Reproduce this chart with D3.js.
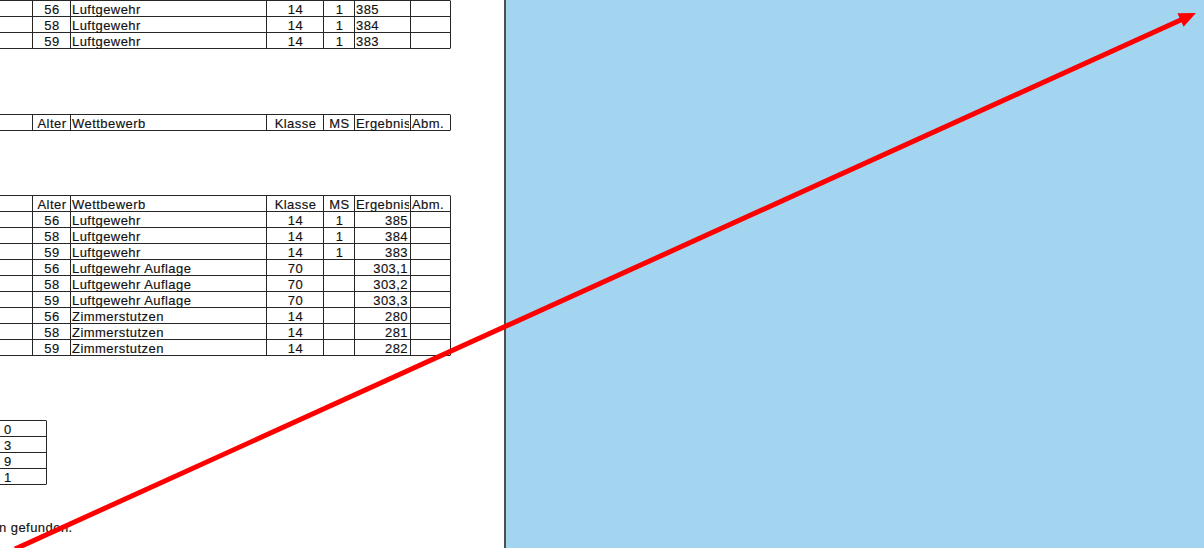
<!DOCTYPE html>
<html>
<head>
<meta charset="utf-8">
<script src="https://cdn.jsdelivr.net/npm/d3@7/dist/d3.min.js"></script>
<style>
  html, body { margin: 0; padding: 0; background: #fff; overflow: hidden; }
  svg { display: block; }
  text { font-family: "Liberation Sans", Arial, sans-serif; font-size: 13px; letter-spacing: 0.45px; fill: #111; stroke: #111; stroke-width: 0.15px; }
</style>
</head>
<body>
<script>
// ---------------- DATA ----------------
const headers = ["Alter", "Wettbewerb", "Klasse", "MS", "Ergebnis", "Abm."];

const t1Alter = [56, 58, 59];
const t1Wettbewerb = ["Luftgewehr", "Luftgewehr", "Luftgewehr"];
const t1Klasse = [14, 14, 14];
const t1MS = [1, 1, 1];
const t1Ergebnis = ["385", "384", "383"];

const t3Alter = [56, 58, 59, 56, 58, 59, 56, 58, 59];
const t3Wettbewerb = ["Luftgewehr", "Luftgewehr", "Luftgewehr",
  "Luftgewehr Auflage", "Luftgewehr Auflage", "Luftgewehr Auflage",
  "Zimmerstutzen", "Zimmerstutzen", "Zimmerstutzen"];
const t3Klasse = [14, 14, 14, 70, 70, 70, 14, 14, 14];
const t3MS = [1, 1, 1, "", "", "", "", "", ""];
const t3Ergebnis = ["385", "384", "383", "303,1", "303,2", "303,3", "280", "281", "282"];

const smallValues = ["0", "3", "9", "1"];
const footnote = "n gefunden.";

// arrow in a unit domain (start -> end)
const arrowPoints = [[0, 0], [1, 1]];

// ---------------- LAYOUT ----------------
const W = 1204, H = 548;
const colEdges = [0, 32, 70, 266, 323, 354, 410, 450];
const rowH = 16;
const lineColor = "#262626";

const svg = d3.select("body").append("svg").attr("width", W).attr("height", H);

// clip paths per column for overflow text
const defs = svg.append("defs");
colEdges.slice(0, -1).forEach((x0, i) => {
  defs.append("clipPath").attr("id", "col" + i)
    .append("rect").attr("x", x0).attr("y", 0)
    .attr("width", colEdges[i + 1] - x0 - 1).attr("height", H);
});

// blue panel
const panelX = d3.scaleLinear().domain([0, 1]).range([506, W]);
svg.append("rect").attr("x", panelX(0)).attr("y", 0)
  .attr("width", panelX(1) - panelX(0)).attr("height", H)
  .attr("fill", "rgb(163,213,241)");
svg.append("line").attr("x1", 505).attr("x2", 505).attr("y1", 0).attr("y2", H)
  .attr("stroke", "#222").attr("stroke-width", 1.6);

function drawTable(top, headerRow, cols, ergAlign) {
  const nRows = cols[0].length + (headerRow ? 1 : 0);
  const y = d3.scaleLinear().domain([0, nRows]).range([top, top + nRows * rowH]);
  const g = svg.append("g");
  g.selectAll("line.h").data(d3.range(nRows + 1)).join("line")
    .attr("x1", colEdges[0]).attr("x2", colEdges[colEdges.length - 1])
    .attr("y1", d => Math.round(y(d)) + 0.5).attr("y2", d => Math.round(y(d)) + 0.5)
    .attr("stroke", lineColor).attr("stroke-width", 1);
  g.selectAll("line.v").data(colEdges.slice(1)).join("line")
    .attr("x1", d => d + 0.5).attr("x2", d => d + 0.5)
    .attr("y1", y(0) + 0.5).attr("y2", y(nRows) + 0.5)
    .attr("stroke", lineColor).attr("stroke-width", 1);

  const cellText = (rowIdx, colIdx, txt, align) => {
    const x0 = colEdges[colIdx], x1 = colEdges[colIdx + 1];
    let x, anchor;
    if (align === "center") { x = (x0 + x1) / 2 + 1; anchor = "middle"; }
    else if (align === "right") { x = x1 - 2; anchor = "end"; }
    else { x = x0 + 2; anchor = "start"; }
    g.append("text").attr("x", x).attr("y", y(rowIdx) + 14)
      .attr("text-anchor", anchor).attr("clip-path", "url(#col" + colIdx + ")")
      .text(txt);
  };
  let r0 = 0;
  if (headerRow) {
    const hAlign = ["center", "left", "center", "center", "left", "left"];
    headers.forEach((h, i) => cellText(0, i + 1, h, hAlign[i]));
    r0 = 1;
  }
  const aligns = ["center", "left", "center", "center", ergAlign];
  cols.forEach((col, ci) => {
    col.forEach((v, ri) => cellText(r0 + ri, ci + 1, String(v), aligns[ci]));
  });
}

drawTable(0, false, [t1Alter, t1Wettbewerb, t1Klasse, t1MS, t1Ergebnis], "left");
drawTable(114, true, [[], [], [], [], []], "right");
drawTable(195, true, [t3Alter, t3Wettbewerb, t3Klasse, t3MS, t3Ergebnis], "right");

// small table
const ys = d3.scaleLinear().domain([0, smallValues.length]).range([420, 420 + smallValues.length * rowH]);
const gs = svg.append("g");
gs.selectAll("line.h").data(d3.range(smallValues.length + 1)).join("line")
  .attr("x1", 0).attr("x2", 46)
  .attr("y1", d => ys(d) + 0.5).attr("y2", d => ys(d) + 0.5)
  .attr("stroke", lineColor);
gs.append("line").attr("x1", 46.5).attr("x2", 46.5)
  .attr("y1", ys(0) + 0.5).attr("y2", ys(smallValues.length) + 0.5).attr("stroke", lineColor);
gs.selectAll("text").data(smallValues).join("text")
  .attr("x", 4).attr("y", (d, i) => ys(i) + 14).text(d => d);

// footnote
svg.append("text").attr("x", -1).attr("y", 532).text(footnote);

// red arrow
const ax = d3.scaleLinear().domain([0, 1]).range([15, 1196]);
const ay = d3.scaleLinear().domain([0, 1]).range([549, 13]);
const [p0, p1] = arrowPoints.map(p => [ax(p[0]), ay(p[1])]);
const dx = p1[0] - p0[0], dy = p1[1] - p0[1];
const len = Math.hypot(dx, dy);
const ux = dx / len, uy = dy / len;
const headL = 17, headW = 7.5;
const base = [p1[0] - ux * headL, p1[1] - uy * headL];
svg.append("line")
  .attr("x1", p0[0]).attr("y1", p0[1])
  .attr("x2", base[0] + ux * 2).attr("y2", base[1] + uy * 2)
  .attr("stroke", "#ff0000").attr("stroke-width", 5);
svg.append("path")
  .attr("d", d3.line()([
    p1,
    [base[0] - uy * headW, base[1] + ux * headW],
    [base[0] + uy * headW, base[1] - ux * headW]
  ]) + "Z")
  .attr("fill", "#ff0000");
</script>
</body>
</html>
